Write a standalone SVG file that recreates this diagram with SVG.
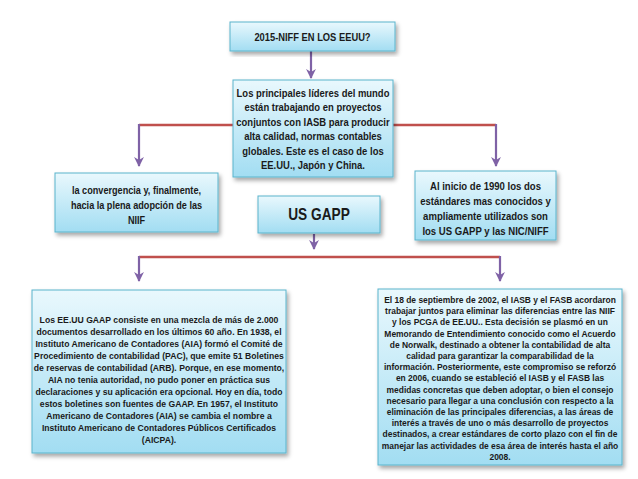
<svg xmlns="http://www.w3.org/2000/svg" width="638" height="479" viewBox="0 0 638 479">
<style>
.box{fill:url(#g);stroke:#5ab4cc;stroke-width:1;filter:url(#sh)}
.t{font-family:"Liberation Sans",Arial,sans-serif;font-weight:bold;fill:#1a1a1a;text-anchor:middle}
.s11{font-size:11px}
.s9{font-size:9.6px}
.red{stroke:#c0504d;stroke-width:2.5;fill:none}
.pur{stroke:#7f62a6;stroke-width:2.2;fill:none;marker-end:url(#ah)}
</style>
<defs>
<linearGradient id="g" x1="0" y1="0" x2="0" y2="1">
<stop offset="0" stop-color="#e9f8fd"/>
<stop offset="1" stop-color="#a2ddf2"/>
</linearGradient>
<filter id="sh" x="-10%" y="-10%" width="125%" height="130%">
<feDropShadow dx="2" dy="3" stdDeviation="2" flood-color="#000" flood-opacity="0.35"/>
</filter>
<marker id="ah" viewBox="0 0 10 10" refX="9" refY="5" markerWidth="4.5" markerHeight="4.5" orient="auto">
<path d="M0,0 L10,5 L0,10 L3,5 z" fill="#7f62a6"/>
</marker>
</defs>
<rect width="638" height="479" fill="#fff"/>
<g id="connectors">
<path class="pur" d="M311,51 V78"/>
<path class="red" d="M139,125 H496"/>
<path class="pur" d="M139,124 V166"/>
<path class="pur" d="M496,124 V166"/>
<path class="pur" d="M314,234 V249"/>
<path class="red" d="M139,257 H500"/>
<path class="pur" d="M139,256 V281"/>
<path class="pur" d="M500,256 V281"/>
</g>
<g id="n-title">
<rect class="box" x="230" y="22" width="165" height="29"/>
<text class="t s11" transform="translate(312.5 0) scale(0.85 1)" x="0" y="41">2015-NIFF EN LOS EEUU?</text>
</g>
<g id="n-lideres">
<rect class="box" x="233" y="80" width="160" height="97"/>
<text class="t s11" transform="translate(313 0) scale(0.86 1)"><tspan x="0" y="97">Los principales líderes del mundo</tspan><tspan x="0" y="111.5">están trabajando en proyectos</tspan><tspan x="0" y="126">conjuntos con IASB para producir</tspan><tspan x="0" y="140.5">alta calidad, normas contables</tspan><tspan x="0" y="155">globales.  Este es el caso de los</tspan><tspan x="0" y="169.5">EE.UU., Japón y China.</tspan></text>
</g>
<g id="n-convergencia">
<rect class="box" x="55" y="173" width="163" height="59"/>
<text class="t s11" transform="translate(136.5 0) scale(0.83 1)"><tspan x="0" y="194">la convergencia y, finalmente,</tspan><tspan x="0" y="209">hacia la plena adopción de las</tspan><tspan x="0" y="224">NIIF</tspan></text>
</g>
<g id="n-1990">
<rect class="box" x="415" y="171" width="141" height="69"/>
<text class="t s11" transform="translate(485.5 0) scale(0.87 1)"><tspan x="0" y="190">Al inicio de 1990 los dos</tspan><tspan x="0" y="205">estándares mas conocidos y</tspan><tspan x="0" y="220">ampliamente utilizados son</tspan><tspan x="0" y="235">los US GAPP y las NIC/NIFF</tspan></text>
</g>
<g id="n-usgapp">
<rect class="box" x="258" y="196" width="122" height="37"/>
<text class="t" style="font-size:16.5px" transform="translate(319 0) scale(0.83 1)" x="0" y="220">US GAPP</text>
</g>
<g id="n-usgaap-hist">
<rect class="box" x="32" y="290" width="254" height="163"/>
<text class="t s9" transform="translate(159 0) scale(0.9 1)"><tspan x="0" y="323">Los EE.UU GAAP consiste en una mezcla de más de 2.000</tspan><tspan x="0" y="335">documentos desarrollado en los últimos 60 año. En 1938, el</tspan><tspan x="0" y="347">Instituto Americano de Contadores (AIA) formó el Comité de</tspan><tspan x="0" y="359">Procedimiento de contabilidad (PAC), que emite 51 Boletines</tspan><tspan x="0" y="371">de reservas de contabilidad (ARB). Porque, en ese momento,</tspan><tspan x="0" y="383">AIA no tenia autoridad, no pudo poner en práctica sus</tspan><tspan x="0" y="395">declaraciones y su aplicación era opcional. Hoy en día, todo</tspan><tspan x="0" y="407">estos boletines son fuentes de GAAP. En 1957, el Instituto</tspan><tspan x="0" y="419">Americano de Contadores (AIA) se cambia el nombre a</tspan><tspan x="0" y="431">Instituto Americano de Contadores Públicos Certificados</tspan><tspan x="0" y="443">(AICPA).</tspan></text>
</g>
<g id="n-norwalk">
<rect class="box" x="378" y="289" width="244" height="176"/>
<text class="t s9" transform="translate(500 0) scale(0.88 1)"><tspan x="0" y="303">El 18 de septiembre de 2002, el IASB y el FASB acordaron</tspan><tspan x="0" y="314.2">trabajar juntos para eliminar  las diferencias entre las NIIF</tspan><tspan x="0" y="325.4">y los PCGA de EE.UU.. Esta decisión se plasmó en un</tspan><tspan x="0" y="336.6">Memorando de Entendimiento  conocido como el Acuerdo</tspan><tspan x="0" y="347.8">de Norwalk, destinado a obtener la contabilidad de alta</tspan><tspan x="0" y="359">calidad  para garantizar la comparabilidad de la</tspan><tspan x="0" y="370.2">información. Posteriormente, este compromiso se reforzó</tspan><tspan x="0" y="381.4">en 2006, cuando se estableció el IASB y el FASB las</tspan><tspan x="0" y="392.6">medidas concretas que deben adoptar, o bien el consejo</tspan><tspan x="0" y="403.8">necesario para llegar a una conclusión con respecto a la</tspan><tspan x="0" y="415">eliminación de las principales diferencias, a las áreas de</tspan><tspan x="0" y="426.2">interés a través de uno o más desarrollo de proyectos</tspan><tspan x="0" y="437.4">destinados, a crear estándares de corto plazo con el fin de</tspan><tspan x="0" y="448.6">manejar las actividades de esa área de interés hasta el año</tspan><tspan x="0" y="459.8">2008.</tspan></text>
</g>
</svg>
